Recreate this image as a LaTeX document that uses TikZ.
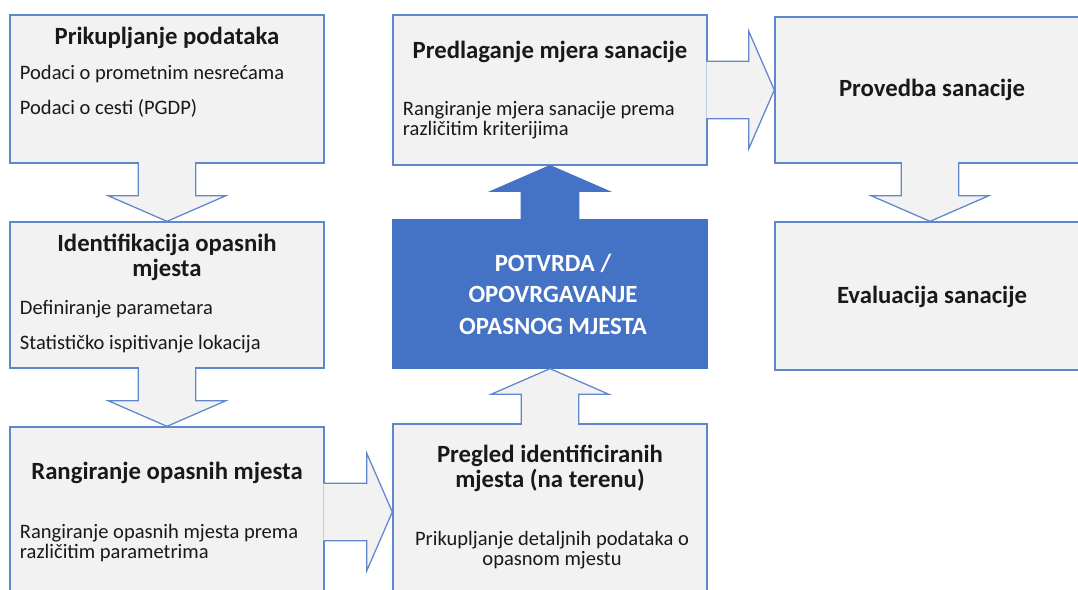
\documentclass[tikz,border=0pt]{standalone}
\usepackage{fontspec}
\setmainfont{Carlito}
\usetikzlibrary{positioning, calc}
\definecolor{xblue}{HTML}{4472C4}
\definecolor{xgray}{HTML}{F2F2F2}
\tikzset{
	box/.style={draw=xblue!85, fill=xgray, line width=0.9pt, inner sep=0pt, minimum width=7.85cm, minimum height=3.7cm},
	heading/.style={font=\fontsize{17.6}{17.8}\selectfont\bfseries, align=center, text=black!90},
	detail/.style={font=\fontsize{14.6}{14.4}\selectfont, align=left, text=black!90},
	blockarrow/.style={line width=0.9pt, line join=miter, to path={
		($(\tikztotarget)!0.64cm!(\tikztostart)$) coordinate (hb)
		($(\tikztostart)!0.72cm!90:(\tikztotarget)$) -- ($(hb)!0.72cm!90:(\tikztotarget)$)
		-- ($(hb)!1.47cm!90:(\tikztotarget)$) -- (\tikztotarget)
		-- ($(hb)!1.47cm!-90:(\tikztotarget)$) -- ($(hb)!0.72cm!-90:(\tikztotarget)$)
		-- ($(\tikztostart)!0.72cm!-90:(\tikztotarget)$)}},
	hollow/.style={blockarrow, draw=xblue!85, fill=xgray},
	filled/.style={blockarrow, draw=xblue, fill=xblue},
}

\begin{document}
\begin{tikzpicture}[x=0.025cm, y=-0.025cm]
		\clip (0,0) rectangle (1078,590);

		% Left column
		\node[box] (pri) at (167,89) {};
		\node[heading] (pri-t) at (167,38) {Prikupljanje podataka};
		\node[detail, anchor=west] (pri-a) at (15,74) {Podaci o prometnim nesrećama};
		\node[detail, anchor=west] (pri-b) at (15,108) {Podaci o cesti (PGDP)};

		\node[box, minimum height=3.65cm] (ide) at (167,295) {};
		\node[heading] (ide-t) at (167,257) {Identifikacija opasnih\\mjesta};
		\node[detail, anchor=west] (ide-a) at (15,309) {Definiranje parametara};
		\node[detail, anchor=west] (ide-b) at (15,344) {Statističko ispitivanje lokacija};

		\node[box, minimum height=4.25cm] (ran) at (167,512) {};
		\node[heading] (ran-t) at (167,473) {Rangiranje opasnih mjesta};
		\node[detail, anchor=west] (ran-a) at (15,543) {Rangiranje opasnih mjesta prema\\različitim parametrima};

		% Middle column
		\node[box, minimum height=3.75cm] (pre) at (550,90) {};
		\node[heading] (pre-t) at (550,52) {Predlaganje mjera sanacije};
		\node[detail, anchor=west] (pre-a) at (398,120) {Rangiranje mjera sanacije prema\\različitim kriterijima};

		\node[box, draw=xblue, fill=xblue] (pot) at (550,294) {};
		\node[heading, text=white, font=\fontsize{17.6}{22.4}\selectfont\bfseries] (pot-t) at (553,294) {POTVRDA /\\OPOVRGAVANJE\\OPASNOG MJESTA};

		\node[box, minimum height=4.4cm] (preg) at (550,512) {};
		\node[heading] (preg-t) at (550,468) {Pregled identificiranih\\mjesta (na terenu)};
		\node[detail, align=center] (preg-a) at (552,550) {Prikupljanje detaljnih podataka o\\opasnom mjestu};

		% Right column
		\node[box, minimum width=7.75cm, minimum height=3.65cm] (prov) at (930,90) {};
		\node[heading] (prov-t) at (932,90) {Provedba sanacije};

		\node[box, minimum width=7.75cm] (eva) at (930,296) {};
		\node[heading] (eva-t) at (932,297) {Evaluacija sanacije};

		% Block arrows
		\draw[hollow] ([yshift=1pt]pri.south) to (ide.north);
		\draw[hollow] ([yshift=1pt]ide.south) to (ran.north);
		\draw[hollow] ([xshift=-1pt]ran.east) to (preg.west);
		\draw[hollow] ([yshift=-1pt]preg.north) to (pot.south);
		\draw[filled] ([yshift=-1pt]pot.north) to (pre.south);
		\draw[hollow] ([xshift=-1pt]pre.east) to (prov.west);
		\draw[hollow] ([yshift=1pt]prov.south) to (eva.north);
	\end{tikzpicture}
\end{document}
